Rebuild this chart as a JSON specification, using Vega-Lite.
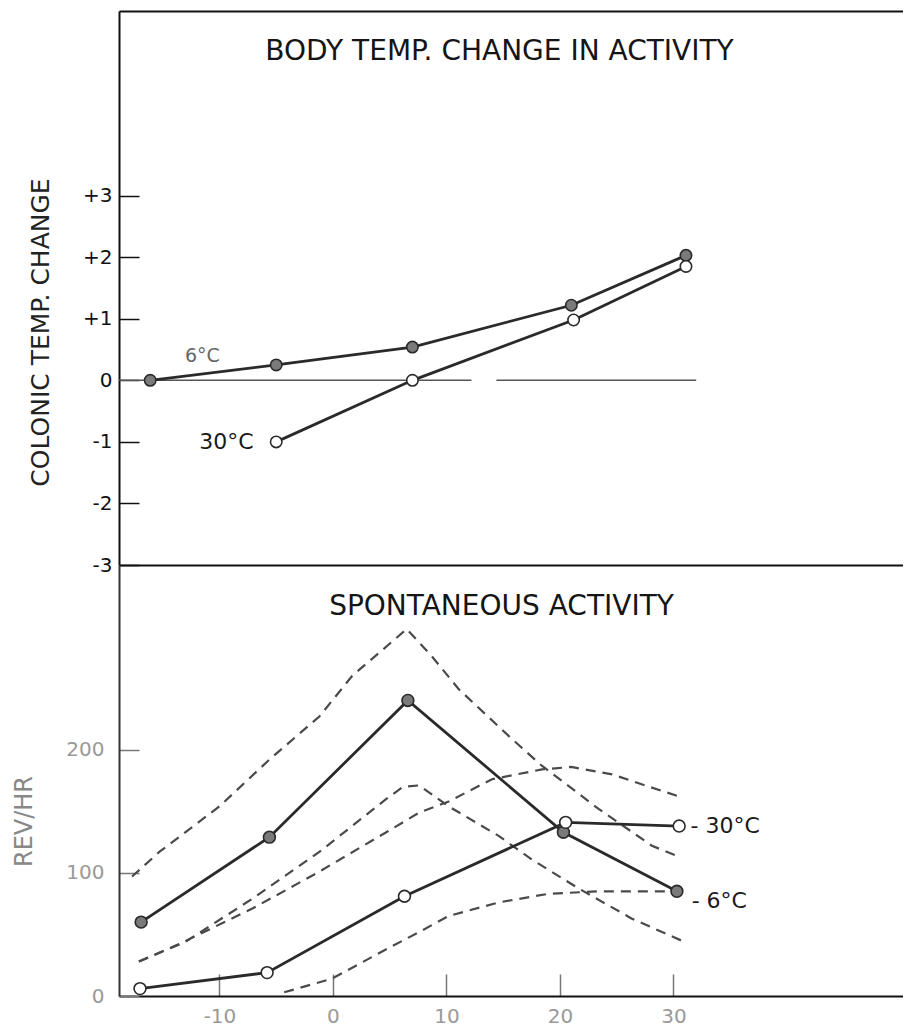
{
  "$schema": "https://vega.github.io/schema/vega-lite/v6.json",
  "autosize": {"type": "pad"},
  "padding": {"left": 12, "top": 11, "right": 0, "bottom": 0},
  "background": "white",
  "spacing": 0,
  "bounds": "flush",
  "config": {"view": {"stroke": null}, "font": "DejaVu Sans", "axis": {"grid": false}},
  "datasets": {
    "temp_change": [
      {"series": "6°C", "x": -16.1, "y": 0.0},
      {"series": "6°C", "x": -5.0, "y": 0.25},
      {"series": "6°C", "x": 7.0, "y": 0.54},
      {"series": "6°C", "x": 21.0, "y": 1.22},
      {"series": "6°C", "x": 31.1, "y": 2.03},
      {"series": "30°C", "x": -5.0, "y": -1.0},
      {"series": "30°C", "x": 7.0, "y": 0.0},
      {"series": "30°C", "x": 21.2, "y": 0.98},
      {"series": "30°C", "x": 31.1, "y": 1.85}
    ],
    "zero_line": [
      {"x": -18.85, "x_end": 12.2, "y": 0},
      {"x": 14.4, "x_end": 32.0, "y": 0}
    ],
    "activity": [
      {"series": "6°C", "x": -16.9, "y": 60},
      {"series": "6°C", "x": -5.6, "y": 129},
      {"series": "6°C", "x": 6.6, "y": 240},
      {"series": "6°C", "x": 20.3, "y": 133},
      {"series": "6°C", "x": 30.3, "y": 85},
      {"series": "30°C", "x": -17.0, "y": 6},
      {"series": "30°C", "x": -5.8, "y": 19},
      {"series": "30°C", "x": 6.3, "y": 81},
      {"series": "30°C", "x": 20.5, "y": 141},
      {"series": "30°C", "x": 30.5, "y": 138}
    ],
    "envelopes": [
      {"band": "6°C upper", "x": -17.7, "y": 97},
      {"band": "6°C upper", "x": -15.3, "y": 117},
      {"band": "6°C upper", "x": -10.0, "y": 154},
      {"band": "6°C upper", "x": -5.6, "y": 192},
      {"band": "6°C upper", "x": -1.2, "y": 227},
      {"band": "6°C upper", "x": 1.7, "y": 260},
      {"band": "6°C upper", "x": 6.5, "y": 298},
      {"band": "6°C upper", "x": 8.7, "y": 276},
      {"band": "6°C upper", "x": 11.1, "y": 249},
      {"band": "6°C upper", "x": 15.5, "y": 211},
      {"band": "6°C upper", "x": 18.4, "y": 187},
      {"band": "6°C upper", "x": 23.4, "y": 152},
      {"band": "6°C upper", "x": 28.1, "y": 122},
      {"band": "6°C upper", "x": 30.5, "y": 113},
      {"band": "6°C lower", "x": -17.1, "y": 28},
      {"band": "6°C lower", "x": -13.0, "y": 44},
      {"band": "6°C lower", "x": -7.1, "y": 79},
      {"band": "6°C lower", "x": -1.2, "y": 117},
      {"band": "6°C lower", "x": 4.7, "y": 160},
      {"band": "6°C lower", "x": 6.2, "y": 170},
      {"band": "6°C lower", "x": 7.6, "y": 171},
      {"band": "6°C lower", "x": 10.2, "y": 154},
      {"band": "6°C lower", "x": 14.6, "y": 130},
      {"band": "6°C lower", "x": 17.5, "y": 111},
      {"band": "6°C lower", "x": 21.7, "y": 87},
      {"band": "6°C lower", "x": 26.3, "y": 63},
      {"band": "6°C lower", "x": 30.7, "y": 45},
      {"band": "30°C upper", "x": -17.1, "y": 28},
      {"band": "30°C upper", "x": -13.6, "y": 42},
      {"band": "30°C upper", "x": -7.1, "y": 71},
      {"band": "30°C upper", "x": -1.2, "y": 101},
      {"band": "30°C upper", "x": 4.7, "y": 133},
      {"band": "30°C upper", "x": 7.6, "y": 149},
      {"band": "30°C upper", "x": 10.2, "y": 158},
      {"band": "30°C upper", "x": 14.0, "y": 176},
      {"band": "30°C upper", "x": 18.4, "y": 184},
      {"band": "30°C upper", "x": 21.0, "y": 186},
      {"band": "30°C upper", "x": 24.6, "y": 180},
      {"band": "30°C upper", "x": 27.5, "y": 171},
      {"band": "30°C upper", "x": 30.5, "y": 162},
      {"band": "30°C lower", "x": -4.3, "y": 3},
      {"band": "30°C lower", "x": -0.1, "y": 14},
      {"band": "30°C lower", "x": 4.7, "y": 38},
      {"band": "30°C lower", "x": 7.6, "y": 52},
      {"band": "30°C lower", "x": 10.2, "y": 65},
      {"band": "30°C lower", "x": 14.6, "y": 76},
      {"band": "30°C lower", "x": 19.0, "y": 83},
      {"band": "30°C lower", "x": 23.4, "y": 85},
      {"band": "30°C lower", "x": 30.5, "y": 85}
    ]
  },
  "vconcat": [
    {
      "width": 784,
      "height": 554,
      "encoding": {
        "x": {"field": "x", "type": "quantitative", "scale": {"domain": [-18.85, 50.22], "nice": false, "zero": false}, "axis": {"orient": "top", "labels": false, "ticks": false, "domainColor": "#111", "domainWidth": 2, "grid": false, "title": "BODY TEMP. CHANGE IN ACTIVITY", "titleX": 380, "titleY": 40, "titleAlign": "center", "titleBaseline": "middle", "titleAngle": 0, "titleFontSize": 28, "titleFont": "DejaVu Sans", "titleFontWeight": "normal", "titleColor": "#151515"}},
        "y": {"field": "y", "type": "quantitative", "scale": {"domain": [-3, 6], "nice": false, "zero": false}, "axis": {"orient": "left", "values": [-3, -2, -1, 0, 1, 2, 3], "tickSize": -20, "tickColor": "#111", "tickWidth": 1.5, "labelFontSize": 20, "labelColor": "#111", "labelPadding": 27, "labelFont": "DejaVu Sans", "labelOverlap": false, "labelFlush": false, "labelExpr": "datum.value > 0 ? '+' + datum.value : (datum.value < 0 ? '-' + abs(datum.value) : '0')", "domainColor": "#111", "domainWidth": 2, "title": "COLONIC TEMP. CHANGE", "titleFontSize": 25, "titleFont": "DejaVu Sans", "titleFontWeight": "normal", "titleColor": "#222", "titleX": -79, "titleY": 321, "titleAngle": 270, "titleAlign": "center", "titleBaseline": "middle", "grid": false}}
      },
      "layer": [
        {"data": {"name": "zero_line"}, "mark": {"type": "rule", "color": "#555", "strokeWidth": 1.5}, "encoding": {"x2": {"field": "x_end"}}},
        {"data": {"name": "temp_change"}, "mark": {"type": "line", "color": "#2a2a2a", "strokeWidth": 2.8}, "encoding": {"detail": {"field": "series"}}},
        {"data": {"name": "temp_change"}, "mark": {"type": "point", "shape": "circle", "size": 130, "opacity": 1, "filled": true, "stroke": "#2a2a2a", "strokeWidth": 1.6}, "encoding": {"fill": {"field": "series", "type": "nominal", "scale": {"domain": ["6°C", "30°C"], "range": ["#7a7a7a", "white"]}, "legend": null}}},
        {"data": {"values": [{"label": "6°C", "x": -11.5, "y": 0.39}]}, "mark": {"type": "text", "align": "center", "baseline": "middle", "fontSize": 19, "color": "#666", "font": "DejaVu Sans"}, "encoding": {"text": {"field": "label"}}},
        {"data": {"values": [{"label": "30°C", "x": -7.0, "y": -1.0}]}, "mark": {"type": "text", "align": "right", "baseline": "middle", "fontSize": 22, "color": "#1a1a1a", "font": "DejaVu Sans"}, "encoding": {"text": {"field": "label"}}}
      ]
    },
    {
      "width": 784,
      "height": 431,
      "resolve": {"axis": {"x": "independent"}},
      "encoding": {
        "y": {"field": "y", "type": "quantitative", "scale": {"domain": [0, 350], "nice": false, "zero": false}, "axis": {"orient": "left", "values": [0, 100, 200], "tickSize": -20, "tickColor": "#777", "tickWidth": 1.5, "labelFontSize": 20, "labelColor": "#999", "labelPadding": 35, "labelFont": "DejaVu Sans", "labelOverlap": false, "labelFlush": false, "domainColor": "#333", "domainWidth": 2, "title": "REV/HR", "titleFontSize": 24, "titleFont": "DejaVu Sans", "titleFontWeight": "normal", "titleColor": "#888", "titleX": -95, "titleY": 256, "titleAngle": 270, "titleAlign": "center", "titleBaseline": "middle", "grid": false}}
      },
      "layer": [
        {"data": {"name": "envelopes"}, "mark": {"type": "line", "color": "#4a4a4a", "strokeWidth": 2.2, "strokeDash": [10, 7]}, "encoding": {"x": {"field": "x", "type": "quantitative", "scale": {"domain": [-18.85, 50.22], "nice": false, "zero": false}, "axis": {"orient": "bottom", "values": [-10, 0, 10, 20, 30], "tickSize": -22, "tickColor": "#777", "tickWidth": 1.5, "labelFontSize": 20, "labelColor": "#999", "labelPadding": 32, "labelFont": "DejaVu Sans", "labelFlush": false, "labelOverlap": false, "labelExpr": "replace(datum.label, '−', '-')", "domainColor": "#111", "domainWidth": 2, "title": null, "grid": false}}, "detail": {"field": "band"}}},
        {"data": {"name": "activity"}, "mark": {"type": "line", "color": "#2a2a2a", "strokeWidth": 2.8}, "encoding": {"x": {"field": "x", "type": "quantitative", "scale": {"domain": [-18.85, 50.22], "nice": false, "zero": false}, "axis": {"orient": "top", "labels": false, "ticks": false, "domainColor": "#111", "domainWidth": 2, "grid": false, "title": "SPONTANEOUS ACTIVITY", "titleX": 382, "titleY": 41, "titleAlign": "center", "titleBaseline": "middle", "titleAngle": 0, "titleFontSize": 28, "titleFont": "DejaVu Sans", "titleFontWeight": "normal", "titleColor": "#151515"}}, "detail": {"field": "series"}}},
        {"data": {"name": "activity"}, "mark": {"type": "point", "shape": "circle", "size": 140, "opacity": 1, "filled": true, "stroke": "#2a2a2a", "strokeWidth": 1.6}, "encoding": {"x": {"field": "x", "type": "quantitative", "scale": {"domain": [-18.85, 50.22], "nice": false, "zero": false}, "axis": null}, "fill": {"field": "series", "type": "nominal", "scale": {"domain": ["6°C", "30°C"], "range": ["#7a7a7a", "white"]}, "legend": null}}},
        {"data": {"values": [{"label": "- 30°C", "x": 31.5, "y": 138}, {"label": "- 6°C", "x": 31.6, "y": 77}]}, "mark": {"type": "text", "align": "left", "baseline": "middle", "fontSize": 22, "color": "#1a1a1a", "font": "DejaVu Sans"}, "encoding": {"x": {"field": "x", "type": "quantitative", "scale": {"domain": [-18.85, 50.22], "nice": false, "zero": false}, "axis": null}, "text": {"field": "label"}}}
      ]
    }
  ]
}
